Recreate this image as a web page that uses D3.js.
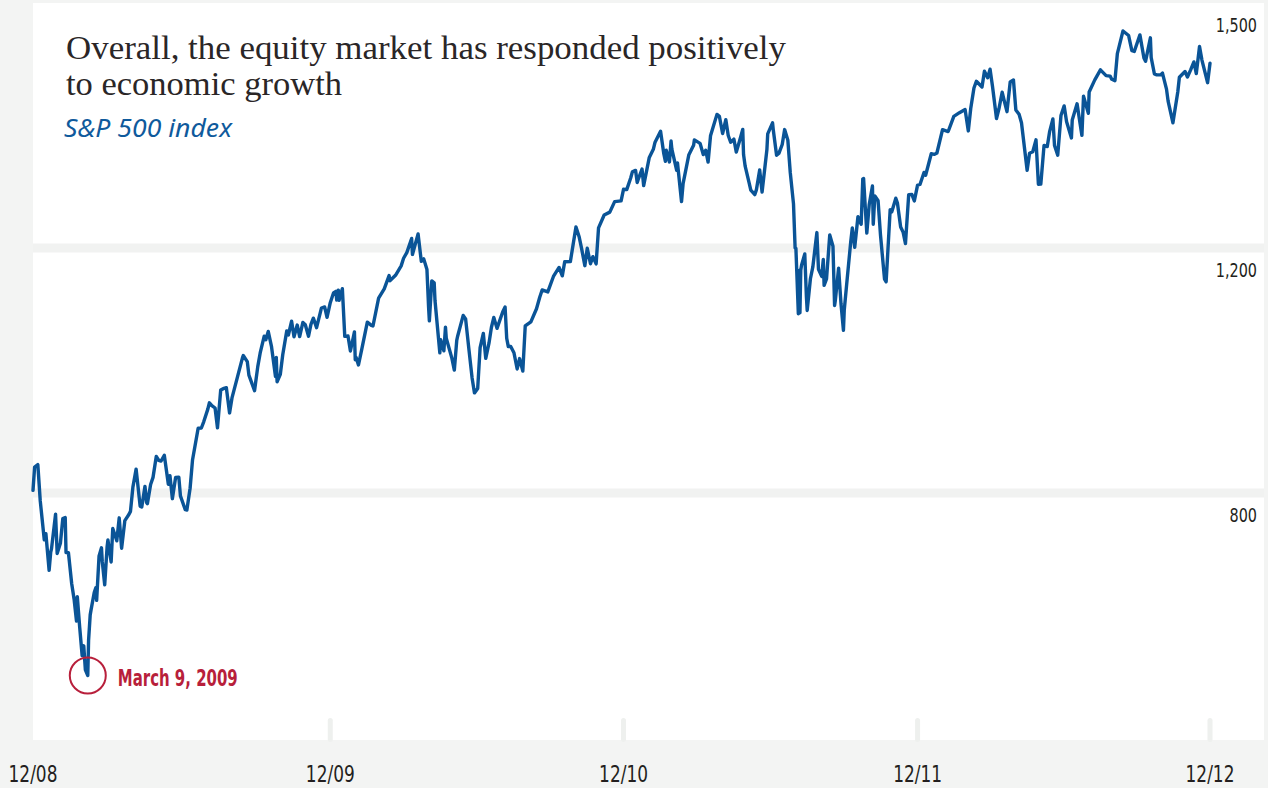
<!DOCTYPE html>
<html>
<head>
<meta charset="utf-8">
<script src="https://cdn.jsdelivr.net/npm/d3@7"></script>
<style>
  html, body { margin: 0; padding: 0; background: #f3f4f3; }
  svg { display: block; }
</style>
</head>
<body>
<svg id="chart" width="1268" height="788"></svg>
<script>
// S&P 500 closing levels, [date, close]; the first entry is the 2008 year-end close
const closes2009 = [
  ["2008-12-31", 903.25], ["2009-01-02", 931.80], ["2009-01-06", 934.70], ["2009-01-09", 890.35],
  ["2009-01-14", 842.62], ["2009-01-16", 850.12], ["2009-01-20", 805.22], ["2009-01-22", 827.50],
  ["2009-01-23", 831.95], ["2009-01-28", 874.09], ["2009-01-30", 825.88], ["2009-02-03", 838.51],
  ["2009-02-06", 868.60], ["2009-02-09", 869.89], ["2009-02-10", 827.16], ["2009-02-13", 826.84],
  ["2009-02-17", 789.17], ["2009-02-20", 770.05], ["2009-02-23", 743.33], ["2009-02-24", 773.14],
  ["2009-02-27", 735.09], ["2009-03-02", 700.82], ["2009-03-04", 712.87], ["2009-03-06", 683.38],
  ["2009-03-09", 676.53], ["2009-03-10", 719.60], ["2009-03-12", 750.74], ["2009-03-13", 756.55],
  ["2009-03-17", 778.12], ["2009-03-19", 784.04], ["2009-03-20", 768.54], ["2009-03-23", 822.92],
  ["2009-03-26", 832.86], ["2009-03-27", 815.94], ["2009-03-30", 787.53], ["2009-04-02", 834.38],
  ["2009-04-03", 842.50], ["2009-04-07", 815.55], ["2009-04-09", 856.56], ["2009-04-14", 841.50],
  ["2009-04-17", 869.60], ["2009-04-20", 832.39], ["2009-04-24", 866.23], ["2009-04-29", 873.64],
  ["2009-05-01", 877.52], ["2009-05-04", 907.24], ["2009-05-08", 929.23], ["2009-05-13", 883.92],
  ["2009-05-15", 882.88], ["2009-05-19", 908.13], ["2009-05-21", 888.33], ["2009-05-22", 887.00],
  ["2009-05-26", 910.33], ["2009-05-29", 919.14], ["2009-06-02", 944.74], ["2009-06-05", 940.09],
  ["2009-06-08", 939.14], ["2009-06-12", 946.21], ["2009-06-17", 910.71], ["2009-06-19", 921.23],
  ["2009-06-22", 893.04], ["2009-06-26", 918.90], ["2009-06-30", 919.32], ["2009-07-02", 896.42],
  ["2009-07-08", 879.56], ["2009-07-10", 879.13], ["2009-07-14", 905.84], ["2009-07-17", 940.38],
  ["2009-07-24", 979.26], ["2009-07-28", 979.62], ["2009-07-31", 987.48], ["2009-08-05", 1002.72],
  ["2009-08-07", 1010.48], ["2009-08-10", 1007.10], ["2009-08-14", 1004.09], ["2009-08-17", 979.73],
  ["2009-08-21", 1026.13], ["2009-08-25", 1028.12], ["2009-08-28", 1028.93], ["2009-09-01", 998.04],
  ["2009-09-04", 1016.40], ["2009-09-11", 1042.73], ["2009-09-17", 1065.49], ["2009-09-18", 1068.30],
  ["2009-09-23", 1060.87], ["2009-09-25", 1044.38], ["2009-10-02", 1025.21], ["2009-10-06", 1054.72],
  ["2009-10-09", 1071.49], ["2009-10-14", 1092.02], ["2009-10-16", 1087.68], ["2009-10-19", 1097.91],
  ["2009-10-23", 1079.60], ["2009-10-28", 1042.63], ["2009-10-29", 1066.11], ["2009-10-30", 1036.19],
  ["2009-11-03", 1045.41], ["2009-11-06", 1069.30], ["2009-11-11", 1098.51], ["2009-11-13", 1093.48],
  ["2009-11-17", 1110.32], ["2009-11-20", 1091.38], ["2009-11-24", 1105.65], ["2009-11-27", 1091.49],
  ["2009-12-01", 1108.86], ["2009-12-04", 1105.98], ["2009-12-08", 1091.94], ["2009-12-11", 1106.41],
  ["2009-12-14", 1114.11], ["2009-12-18", 1102.47], ["2009-12-24", 1126.48], ["2009-12-28", 1127.78],
  ["2009-12-31", 1115.10]
];

const closes2010 = [
  ["2010-01-04", 1132.99], ["2010-01-08", 1144.98], ["2010-01-11", 1146.98], ["2010-01-12", 1136.22],
  ["2010-01-14", 1148.46], ["2010-01-15", 1136.03], ["2010-01-19", 1150.23], ["2010-01-22", 1091.76],
  ["2010-01-26", 1092.17], ["2010-01-29", 1073.87], ["2010-02-03", 1097.28], ["2010-02-04", 1063.11],
  ["2010-02-05", 1066.19], ["2010-02-08", 1056.74], ["2010-02-12", 1075.51], ["2010-02-19", 1109.17],
  ["2010-02-24", 1105.24], ["2010-02-26", 1104.49], ["2010-03-05", 1138.70], ["2010-03-12", 1149.99],
  ["2010-03-18", 1166.21], ["2010-03-19", 1159.90], ["2010-03-26", 1166.59], ["2010-04-02", 1178.10],
  ["2010-04-05", 1187.44], ["2010-04-09", 1194.37], ["2010-04-15", 1211.67], ["2010-04-16", 1192.13],
  ["2010-04-23", 1217.28], ["2010-04-27", 1183.71], ["2010-04-30", 1186.69], ["2010-05-04", 1173.60],
  ["2010-05-06", 1128.15], ["2010-05-07", 1110.88], ["2010-05-10", 1159.73], ["2010-05-13", 1157.44],
  ["2010-05-14", 1135.68], ["2010-05-20", 1071.59], ["2010-05-21", 1087.69], ["2010-05-25", 1074.03],
  ["2010-05-27", 1103.06], ["2010-05-28", 1089.41], ["2010-06-04", 1064.88], ["2010-06-07", 1050.47],
  ["2010-06-10", 1086.84], ["2010-06-11", 1091.60], ["2010-06-18", 1117.51], ["2010-06-21", 1113.20],
  ["2010-06-25", 1076.76], ["2010-06-29", 1041.24], ["2010-07-02", 1022.58], ["2010-07-06", 1028.06],
  ["2010-07-09", 1077.96], ["2010-07-13", 1095.34], ["2010-07-16", 1064.88], ["2010-07-20", 1083.48],
  ["2010-07-23", 1102.66], ["2010-07-26", 1115.01], ["2010-07-30", 1101.60], ["2010-08-06", 1121.64],
  ["2010-08-09", 1127.79], ["2010-08-11", 1089.47], ["2010-08-13", 1079.25], ["2010-08-16", 1079.38],
  ["2010-08-20", 1071.69], ["2010-08-24", 1051.87], ["2010-08-27", 1064.59], ["2010-08-31", 1049.33],
  ["2010-09-03", 1104.51], ["2010-09-10", 1109.55], ["2010-09-17", 1125.59], ["2010-09-21", 1139.78],
  ["2010-09-24", 1148.67], ["2010-10-01", 1146.24], ["2010-10-08", 1165.15], ["2010-10-15", 1176.19],
  ["2010-10-19", 1165.90], ["2010-10-22", 1183.08], ["2010-10-29", 1183.26], ["2010-11-05", 1225.85],
  ["2010-11-09", 1213.40], ["2010-11-12", 1199.21], ["2010-11-16", 1178.34], ["2010-11-19", 1199.73],
  ["2010-11-23", 1180.73], ["2010-11-26", 1189.40], ["2010-11-30", 1180.55], ["2010-12-03", 1224.71],
  ["2010-12-10", 1240.40], ["2010-12-17", 1243.91], ["2010-12-23", 1256.77], ["2010-12-31", 1257.64]
];

const closes2011 = [
  ["2011-01-03", 1271.87], ["2011-01-07", 1271.50], ["2011-01-12", 1285.96], ["2011-01-14", 1293.24],
  ["2011-01-18", 1295.02], ["2011-01-20", 1280.26], ["2011-01-21", 1283.35], ["2011-01-26", 1296.63],
  ["2011-01-28", 1276.34], ["2011-02-04", 1310.87], ["2011-02-09", 1320.88], ["2011-02-11", 1329.15],
  ["2011-02-18", 1343.01], ["2011-02-22", 1315.44], ["2011-02-24", 1306.10], ["2011-02-25", 1319.88],
  ["2011-03-01", 1305.33], ["2011-03-03", 1330.97], ["2011-03-04", 1321.15], ["2011-03-10", 1295.11],
  ["2011-03-11", 1304.28], ["2011-03-16", 1256.88], ["2011-03-18", 1279.21], ["2011-03-25", 1313.80],
  ["2011-03-31", 1325.83], ["2011-04-01", 1332.41], ["2011-04-08", 1328.17], ["2011-04-12", 1314.41],
  ["2011-04-15", 1319.68], ["2011-04-18", 1305.14], ["2011-04-21", 1337.38], ["2011-04-29", 1363.61],
  ["2011-05-02", 1361.22], ["2011-05-06", 1340.20], ["2011-05-10", 1357.16], ["2011-05-13", 1337.77],
  ["2011-05-16", 1329.47], ["2011-05-20", 1333.27], ["2011-05-23", 1317.37], ["2011-05-27", 1331.10],
  ["2011-05-31", 1345.20], ["2011-06-01", 1314.55], ["2011-06-03", 1300.16], ["2011-06-08", 1279.56],
  ["2011-06-10", 1270.98], ["2011-06-15", 1265.42], ["2011-06-17", 1271.50], ["2011-06-21", 1295.52],
  ["2011-06-24", 1268.45], ["2011-06-30", 1320.64], ["2011-07-01", 1339.67], ["2011-07-07", 1353.22],
  ["2011-07-08", 1343.80], ["2011-07-12", 1313.64], ["2011-07-15", 1316.14], ["2011-07-19", 1326.73],
  ["2011-07-22", 1345.02], ["2011-07-26", 1331.91], ["2011-07-29", 1292.28], ["2011-08-02", 1254.05],
  ["2011-08-04", 1200.07], ["2011-08-05", 1199.38], ["2011-08-08", 1119.46], ["2011-08-09", 1172.53],
  ["2011-08-10", 1120.76], ["2011-08-11", 1172.64], ["2011-08-12", 1178.81], ["2011-08-16", 1192.76],
  ["2011-08-18", 1140.65], ["2011-08-19", 1123.53], ["2011-08-23", 1162.35], ["2011-08-26", 1176.80],
  ["2011-08-31", 1218.89], ["2011-09-02", 1173.97], ["2011-09-06", 1165.24], ["2011-09-08", 1185.90],
  ["2011-09-09", 1154.23], ["2011-09-12", 1162.27], ["2011-09-16", 1216.01], ["2011-09-20", 1202.09],
  ["2011-09-22", 1129.56], ["2011-09-23", 1136.43], ["2011-09-27", 1175.38], ["2011-09-30", 1131.42],
  ["2011-10-03", 1099.23], ["2011-10-04", 1123.95], ["2011-10-07", 1155.46], ["2011-10-12", 1207.25],
  ["2011-10-14", 1224.58], ["2011-10-17", 1200.86], ["2011-10-21", 1238.25], ["2011-10-25", 1229.05],
  ["2011-10-27", 1284.59], ["2011-10-28", 1285.09], ["2011-11-01", 1218.28], ["2011-11-04", 1253.23],
  ["2011-11-08", 1275.92], ["2011-11-09", 1229.10], ["2011-11-11", 1263.85], ["2011-11-15", 1257.81],
  ["2011-11-18", 1215.65], ["2011-11-23", 1161.79], ["2011-11-25", 1158.67], ["2011-11-30", 1246.96],
  ["2011-12-02", 1244.28], ["2011-12-07", 1261.01], ["2011-12-09", 1255.19], ["2011-12-13", 1225.73],
  ["2011-12-16", 1219.66], ["2011-12-19", 1205.35], ["2011-12-23", 1265.33], ["2011-12-27", 1265.43],
  ["2011-12-30", 1257.60]
];

const closes2012 = [
  ["2012-01-03", 1277.06], ["2012-01-06", 1277.81], ["2012-01-11", 1292.48], ["2012-01-13", 1289.09],
  ["2012-01-20", 1315.38], ["2012-01-24", 1314.65], ["2012-01-27", 1316.33], ["2012-02-03", 1344.90],
  ["2012-02-10", 1342.64], ["2012-02-17", 1361.23], ["2012-02-24", 1365.74], ["2012-03-02", 1369.63],
  ["2012-03-06", 1343.36], ["2012-03-09", 1370.87], ["2012-03-13", 1395.95], ["2012-03-16", 1404.17],
  ["2012-03-23", 1397.11], ["2012-03-26", 1416.51], ["2012-03-30", 1408.47], ["2012-04-02", 1419.04],
  ["2012-04-05", 1398.08], ["2012-04-10", 1358.59], ["2012-04-13", 1370.26], ["2012-04-17", 1390.78],
  ["2012-04-20", 1378.53], ["2012-04-23", 1366.94], ["2012-04-27", 1403.36], ["2012-05-01", 1405.82],
  ["2012-05-04", 1369.10], ["2012-05-08", 1363.72], ["2012-05-11", 1353.39], ["2012-05-18", 1295.22],
  ["2012-05-21", 1315.99], ["2012-05-25", 1317.82], ["2012-05-29", 1332.42], ["2012-06-01", 1278.04],
  ["2012-06-04", 1278.18], ["2012-06-08", 1325.66], ["2012-06-12", 1324.18], ["2012-06-15", 1342.84],
  ["2012-06-19", 1357.98], ["2012-06-21", 1325.51], ["2012-06-25", 1313.72], ["2012-06-29", 1362.16],
  ["2012-07-03", 1374.02], ["2012-07-06", 1354.68], ["2012-07-12", 1334.76], ["2012-07-13", 1356.78],
  ["2012-07-19", 1376.51], ["2012-07-23", 1350.52], ["2012-07-25", 1337.89], ["2012-07-27", 1385.97],
  ["2012-08-02", 1365.00], ["2012-08-03", 1390.99], ["2012-08-10", 1405.87], ["2012-08-17", 1418.16],
  ["2012-08-24", 1411.13], ["2012-08-29", 1410.49], ["2012-08-31", 1406.58], ["2012-09-04", 1404.94],
  ["2012-09-07", 1437.92], ["2012-09-14", 1465.77], ["2012-09-21", 1460.15], ["2012-09-25", 1441.59],
  ["2012-09-28", 1440.67], ["2012-10-05", 1460.93], ["2012-10-10", 1432.56], ["2012-10-12", 1428.59],
  ["2012-10-18", 1457.34], ["2012-10-19", 1433.19], ["2012-10-23", 1413.11], ["2012-10-26", 1411.94],
  ["2012-10-31", 1412.16], ["2012-11-02", 1414.20], ["2012-11-07", 1394.53], ["2012-11-09", 1379.85],
  ["2012-11-15", 1353.33], ["2012-11-16", 1359.88], ["2012-11-21", 1391.03], ["2012-11-23", 1409.15],
  ["2012-11-30", 1416.18], ["2012-12-03", 1409.46], ["2012-12-07", 1418.07], ["2012-12-11", 1427.84],
  ["2012-12-14", 1413.58], ["2012-12-18", 1446.79], ["2012-12-21", 1430.15], ["2012-12-28", 1402.43],
  ["2012-12-31", 1426.19]
];

// Axis ticks and their printed labels; year markers sit on the first session of each year
const yTickValues = [1500, 1200, 900];
const yTickLabels = ["1,500", "1,200", "800"];
const xTickDates = ["2008-12-31", "2010-01-04", "2011-01-03", "2012-01-03", "2012-12-31"];
const xTickLabels = ["12/08", "12/09", "12/10", "12/11", "12/12"];

// Headline text and the callout for the market bottom
const titleLines = ["Overall, the equity market has responded positively", "to economic growth"];
const subtitle = "S&P 500 index";
const lowDate = "2009-03-09";
const lowLabel = "March 9, 2009";

const parse = d3.timeParse("%Y-%m-%d");
const series = [...closes2009, ...closes2010, ...closes2011, ...closes2012]
  .map(([d, v]) => ({ date: parse(d), value: v }));

const W = 1268, H = 788;
const panel = { left: 33, top: 3, right: 1264, bottom: 740 };

const x = d3.scaleTime()
  .domain(d3.extent(series, d => d.date))
  .range([33, 1210]);

const y = d3.scaleLinear()
  .domain([900, 1500])
  .range([493, panel.top]);

const svg = d3.select("#chart");

svg.append("rect").attr("width", W).attr("height", H).attr("fill", "#f3f4f3");
svg.append("rect")
  .attr("x", panel.left).attr("y", panel.top)
  .attr("width", panel.right - panel.left).attr("height", panel.bottom - panel.top)
  .attr("fill", "#ffffff");

const condensed = "'Liberation Sans Narrow', 'DejaVu Sans Condensed', 'Roboto', sans-serif";

// Narrow text helper: squeeze a label into a fixed run width
function fit(sel, width) {
  return sel.attr("textLength", width).attr("lengthAdjust", "spacingAndGlyphs");
}

// Horizontal grid bands (the top value sits on the panel edge)
svg.append("g").selectAll("rect")
  .data(yTickValues.filter(v => y(v) > panel.top + 2))
  .join("rect")
  .attr("x", panel.left).attr("width", panel.right - panel.left)
  .attr("y", d => y(d) - 4.5).attr("height", 9)
  .attr("fill", "#f1f2f1");

// Value labels, tucked under each band on the right, set in a narrowed face
svg.append("g").selectAll("text")
  .data(yTickValues)
  .join("text")
  .attr("transform", d => `translate(1257,${y(d) + 29}) scale(0.8,1)`)
  .attr("text-anchor", "end")
  .attr("font-family", condensed)
  .attr("font-size", 20)
  .attr("fill", "#231f20")
  .text((d, i) => yTickLabels[i]);

// Year markers along the bottom edge
const xTicks = xTickDates.map((d, i) => ({ date: parse(d), label: xTickLabels[i] }));
svg.append("g").selectAll("rect")
  .data(xTicks.slice(1))
  .join("rect")
  .attr("x", d => x(d.date) - 2.5).attr("y", 718)
  .attr("width", 5).attr("height", 24).attr("rx", 2.5)
  .attr("fill", "#eef0ee");

svg.append("g").selectAll("text")
  .data(xTicks)
  .join("text")
  .attr("transform", d => `translate(${x(d.date)},782) scale(0.82,1)`)
  .attr("text-anchor", "middle")
  .attr("font-family", condensed)
  .attr("font-size", 23)
  .attr("fill", "#231f20")
  .text(d => d.label);

// Index line
const line = d3.line()
  .x(d => x(d.date))
  .y(d => y(d.value))
  .curve(d3.curveLinear);

svg.append("path")
  .datum(series)
  .attr("d", line)
  .attr("fill", "none")
  .attr("stroke", "#0a5497")
  .attr("stroke-width", 3.4)
  .attr("stroke-linejoin", "round")
  .attr("stroke-linecap", "round");

// Market bottom callout
const low = series.find(d => +d.date === +parse(lowDate));
svg.append("circle")
  .attr("cx", x(low.date)).attr("cy", y(low.value)).attr("r", 18)
  .attr("fill", "none").attr("stroke", "#b81f3b").attr("stroke-width", 2);
svg.append("text")
  .attr("x", x(low.date) + 30).attr("y", y(low.value) + 10)
  .attr("font-family", condensed)
  .attr("font-weight", "bold")
  .attr("font-size", 23)
  .attr("fill", "#b81f3b")
  .text(lowLabel)
  .call(fit, 120);

// Headline and subtitle
const titleWidths = [720, 276];
svg.append("g").selectAll("text")
  .data(titleLines)
  .join("text")
  .attr("x", 66)
  .attr("y", (d, i) => 59 + i * 36)
  .attr("font-family", "'Liberation Serif', 'DejaVu Serif', serif")
  .attr("font-size", 34)
  .attr("fill", "#2a2627")
  .text(d => d)
  .each(function (d, i) { fit(d3.select(this), titleWidths[i]); });

svg.append("text")
  .attr("x", 64).attr("y", 137)
  .attr("font-family", "'Noto Sans', 'Open Sans', sans-serif")
  .attr("font-style", "italic")
  .attr("font-size", 25)
  .attr("fill", "#0f5a9c")
  .text(subtitle)
  .call(fit, 168);
</script>
</body>
</html>
